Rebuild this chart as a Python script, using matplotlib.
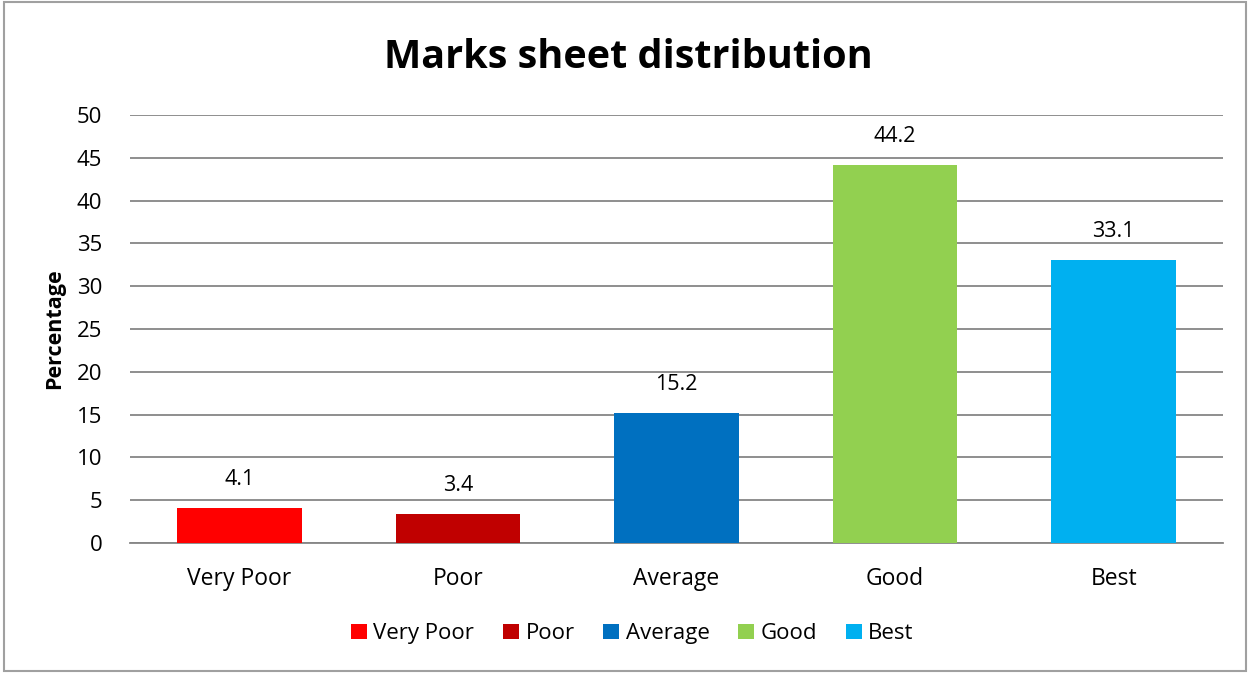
import matplotlib.pyplot as plt
from matplotlib.patches import Rectangle

categories = ['Very Poor', 'Poor', 'Average', 'Good', 'Best']
values = [4.1, 3.4, 15.2, 44.2, 33.1]
colors = ['#ff0000', '#c00000', '#0070c0', '#92d050', '#00b0f0']

plt.rcParams['font.family'] = ['Open Sans', 'DejaVu Sans']

fig = plt.figure(figsize=(12.5, 6.73), dpi=100)
ax = fig.add_axes([0.104, 0.1932, 0.8744, 0.6359])

x = range(len(categories))
bars = ax.bar(x, values, width=0.57, color=colors, label=categories, zorder=3)
for b, v in zip(bars, values):
    ax.annotate(f'{v}', (b.get_x() + b.get_width() / 2, v), xytext=(0, 13),
                textcoords='offset points', ha='center', va='bottom', fontsize=15.5)

ax.set_xlim(-0.5, len(categories) - 0.5)
ax.set_ylim(0, 50)
ax.set_yticks(range(0, 51, 5))
ax.set_xticks(list(x))
ax.set_xticklabels(categories, fontsize=16.5)
ax.tick_params(axis='y', labelsize=16, length=0, pad=20)
ax.tick_params(axis='x', length=0, pad=17)
ax.grid(axis='y', color='#868686', linewidth=1.3, zorder=0)
for s in ['top', 'right', 'left']:
    ax.spines[s].set_visible(False)
ax.spines['bottom'].set_color('#868686')
ax.spines['bottom'].set_linewidth(1.3)

ax.set_ylabel('Percentage', fontsize=15.5, fontweight='bold', labelpad=8)
fig.text(0.503, 0.914, 'Marks sheet distribution', ha='center', va='center',
         fontsize=28.5, fontweight='bold')

fig.legend(handles=bars, labels=categories, loc='center', bbox_to_anchor=(0.506, 0.058),
           ncol=5, frameon=False, fontsize=16, handlelength=0.7, handleheight=0.7,
           handletextpad=0.3, columnspacing=1.3)

fig.patches.append(Rectangle((0.003, 0.003), 0.994, 0.994, transform=fig.transFigure,
                             fill=False, edgecolor='#a0a0a0', linewidth=1.5))

fig.savefig('out.png', dpi=100)
